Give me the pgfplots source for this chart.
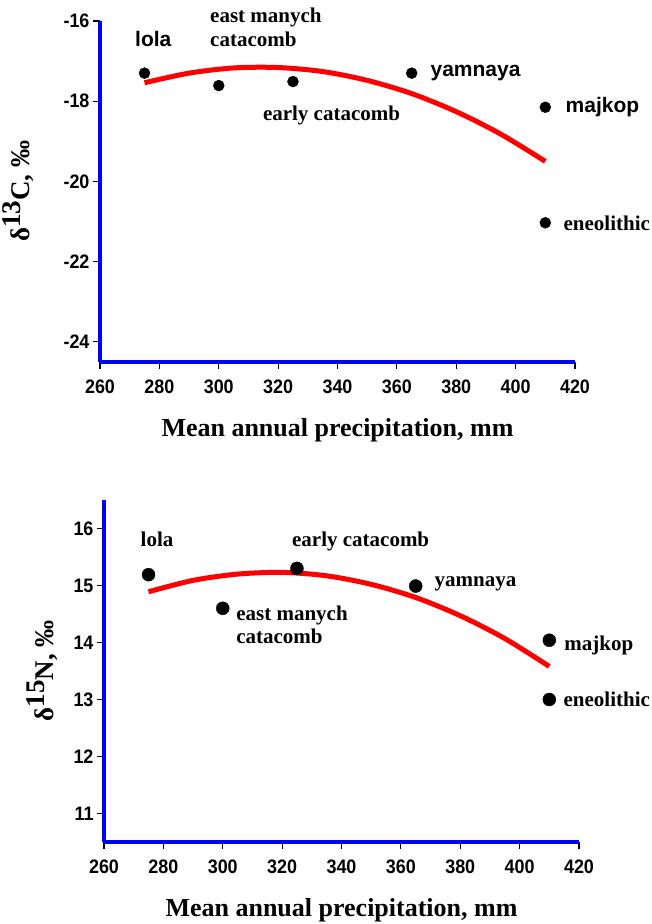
\documentclass[border=0pt]{standalone}
\usepackage{fontspec}
\setmainfont{Liberation Serif}
\setsansfont{Liberation Sans}
\newfontfamily\tickfont{Liberation Sans}[FakeStretch=0.92]
\usepackage{pgfplots}
\pgfplotsset{compat=1.18}

\tikzset{
  ylab/.style={font=\rmfamily\bfseries\fontsize{27bp}{29bp}\selectfont},
  tlab/.style={font=\rmfamily\bfseries\fontsize{21bp}{23bp}\selectfont, anchor=base west, inner sep=0pt},
  slab/.style={font=\sffamily\bfseries\fontsize{21bp}{23bp}\selectfont, anchor=base west, inner sep=0pt},
}
\pgfplotsset{
  isoplot/.style={
    scale only axis, width=475bp,
    axis lines*=left,
    axis line style={blue, line width=3.5bp},
    tick align=outside, major tick length=7bp,
    tick style={black, line width=1.1bp},
    xmin=260, xmax=420, xtick={260,280,...,420},
    xticklabels={260,280,300,320,340,360,380,400,420},
    tick label style={font=\tickfont\bfseries\fontsize{19.5bp}{21bp}\selectfont},
    xticklabel style={yshift=-7bp},
    xlabel={Mean annual precipitation, mm},
    xlabel style={font=\rmfamily\bfseries\fontsize{26bp}{28bp}\selectfont,
      at={(axis description cs:0.5,-0.219)}, anchor=base},
    clip=false,
  },
  fitline/.style={red, line width=5bp, smooth},
  dots/.style={only marks, mark=*, black, mark size=5.5bp},
}

\begin{document}
\begin{tikzpicture}
\path[use as bounding box] (0,0) rectangle (652bp,924bp);

% carbon
\begin{axis}[isoplot, height=341bp,
    at={(100bp,562bp)}, anchor=south west,
    ymin=-24.5, ymax=-16,
    ytick={-24,-22,-20,-18,-16},
    yticklabels={-24,-22,-20,-18,-16},
    ylabel={δ\raisebox{9bp}{13}C, ‰},
    ylabel style={ylab, at={(axis description cs:-0.172,0.5)}, anchor=center},
  ]
\addplot[fitline] coordinates {(275,-17.54) (290,-17.30) (305,-17.17) (320,-17.16)
  (335,-17.26) (350,-17.48) (365,-17.81) (380,-18.26) (395,-18.82) (410,-19.50)};
\addplot[dots] coordinates {(275,-17.30) (300,-17.61) (325,-17.51) (365,-17.30)
  (410,-18.15) (410,-21.03)};
\node[slab] at (axis cs:271.8,-16.63) {lola};
\node[tlab] at (axis cs:297.05,-16.04) {east manych};
\node[tlab] at (axis cs:297.05,-16.64) {catacomb};
\node[tlab] at (axis cs:314.84,-18.48) {early catacomb};
\node[slab] at (axis cs:371.3,-17.38) {yamnaya};
\node[slab] at (axis cs:416.8,-18.29) {majkop};
\node[tlab] at (axis cs:416.1,-21.22) {eneolithic};
\end{axis}

% nitrogen
\begin{axis}[isoplot, height=342bp,
    at={(104bp,82bp)}, anchor=south west,
    ymin=10.5, ymax=16.5,
    ytick={11,12,13,14,15,16},
    yticklabels={11,12,13,14,15,16},
    ylabel={δ\raisebox{9bp}{15}N, ‰},
    ylabel style={ylab, at={(axis description cs:-0.131,0.5)}, anchor=center},
  ]
\addplot[fitline] coordinates {(275,14.89) (290,15.09) (305,15.20) (320,15.23) (335,15.17)
  (350,15.02) (365,14.79) (380,14.47) (395,14.07) (410,13.58)};
\addplot[dots, mark size=6.5bp] coordinates {(275,15.19) (300,14.60) (325,15.30) (365,14.99)
  (410,14.04) (410,13.00)};
\node[tlab] at (axis cs:272.3,15.69) {lola};
\node[tlab] at (axis cs:323.3,15.69) {early catacomb};
\node[tlab] at (axis cs:371.3,14.99) {yamnaya};
\node[tlab] at (axis cs:304.5,14.39) {east manych};
\node[tlab] at (axis cs:304.5,13.98) {catacomb};
\node[tlab] at (axis cs:415.0,13.86) {majkop};
\node[tlab] at (axis cs:414.75,12.88) {eneolithic};
\end{axis}
\end{tikzpicture}
\end{document}
